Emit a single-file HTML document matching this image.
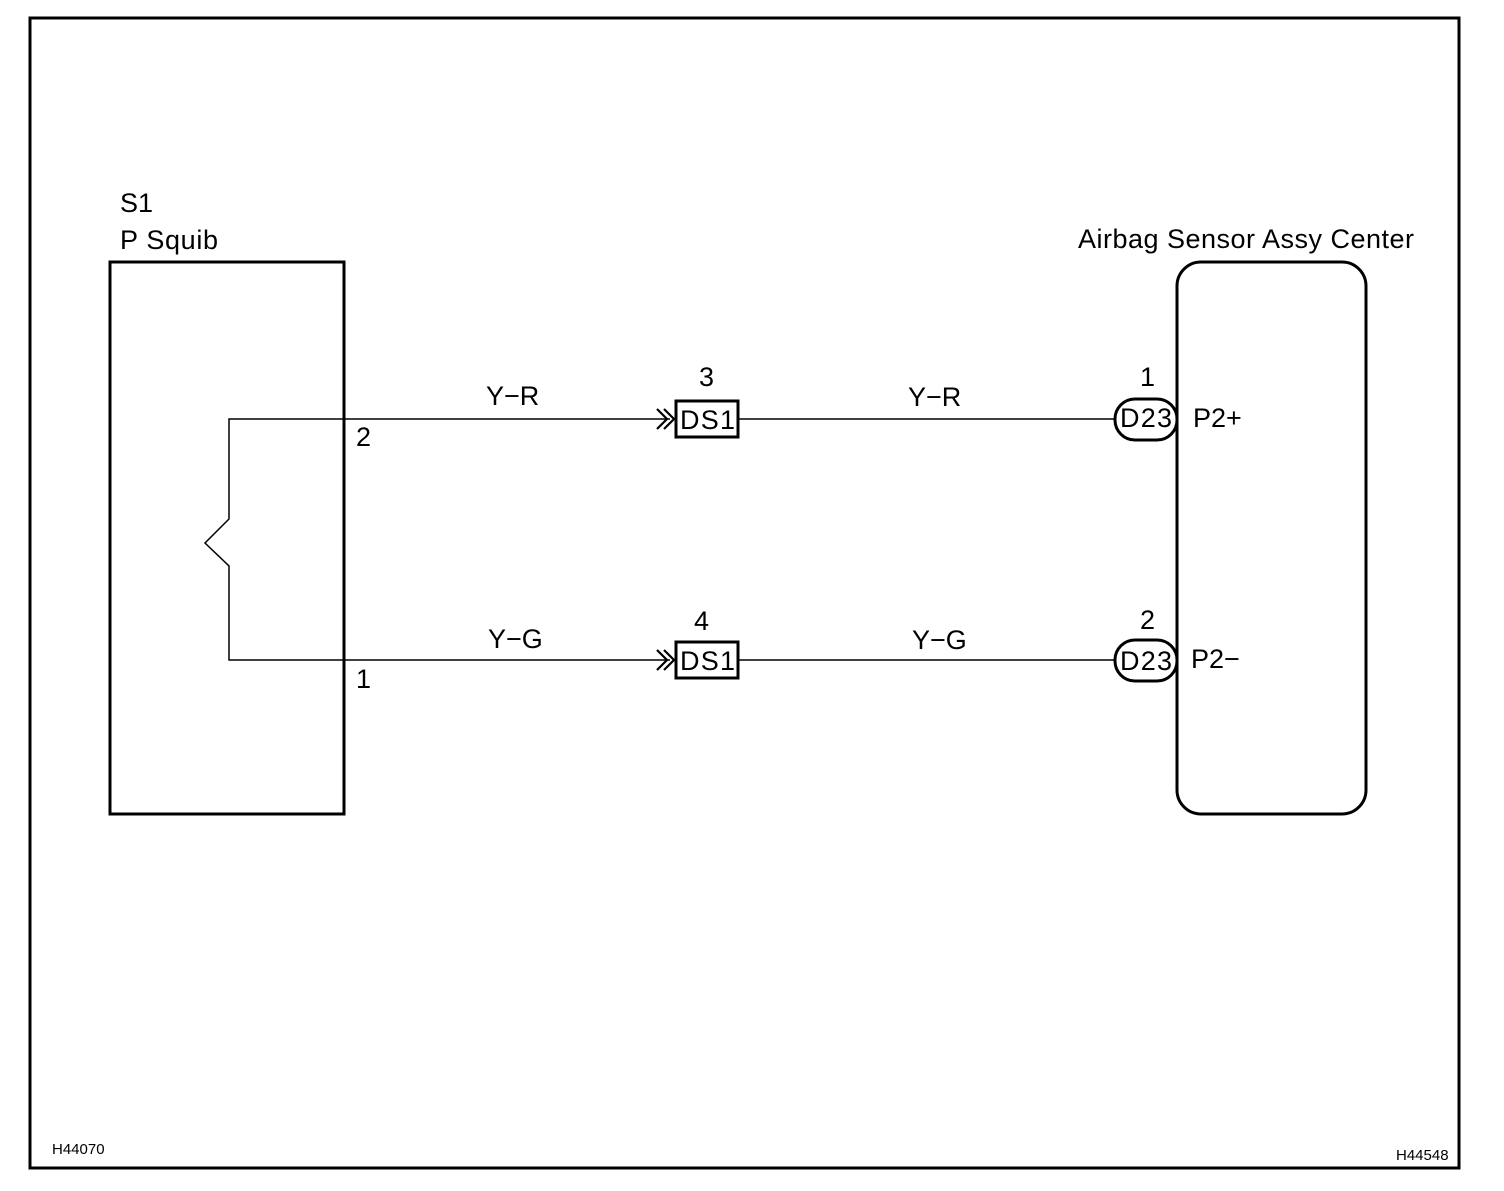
<!DOCTYPE html>
<html><head><style>
body{margin:0;background:#fff;}
svg text{font-family:"Liberation Sans",Arial,sans-serif;fill:#000;}
</style></head><body>
<svg width="1504" height="1186" viewBox="0 0 1504 1186" xmlns="http://www.w3.org/2000/svg">
<rect x="30" y="18" width="1429" height="1150" fill="none" stroke="#000" stroke-width="3"/>
<text x="120" y="212" font-size="27">S1</text>
<text x="120" y="249" font-size="27" textLength="98">P Squib</text>
<rect x="110" y="262" width="234" height="552" fill="none" stroke="#000" stroke-width="3"/>
<text x="1078" y="248" font-size="27" textLength="336">Airbag Sensor Assy Center</text>
<rect x="1177" y="262" width="189" height="552" rx="24" fill="none" stroke="#000" stroke-width="3"/>
<g fill="none" stroke="#000" stroke-width="1.5">
<polyline points="670,419 229,419 229,519 205,543 229,566 229,660 670,660"/>
<line x1="739" y1="419" x2="1115" y2="419"/>
<line x1="739" y1="660" x2="1115" y2="660"/>
</g>
<g fill="none" stroke="#000" stroke-width="2.2">
<polyline points="657,409 667,419 657,429"/>
<polyline points="664,409 674,419 664,429"/>
<polyline points="657,650 667,660 657,670"/>
<polyline points="664,650 674,660 664,670"/>
</g>
<g fill="#fff" stroke="#000" stroke-width="3">
<rect x="676" y="401" width="62" height="36"/>
<rect x="676" y="642" width="62" height="36"/>
<rect x="1115" y="399" width="62" height="41" rx="20"/>
<rect x="1115" y="640" width="62" height="41" rx="20"/>
</g>
<g font-size="27">
<text x="486" y="405">Y−R</text>
<text x="908" y="406">Y−R</text>
<text x="488" y="648">Y−G</text>
<text x="912" y="649">Y−G</text>
<text x="356" y="446">2</text>
<text x="356" y="688">1</text>
<text x="699" y="386">3</text>
<text x="694" y="630">4</text>
<text x="1140" y="386">1</text>
<text x="1140" y="629">2</text>
<text x="680" y="429" textLength="55">DS1</text>
<text x="680" y="670" textLength="55">DS1</text>
<text x="1120" y="427" textLength="52">D23</text>
<text x="1120" y="670" textLength="52">D23</text>
<text x="1193" y="427">P2+</text>
<text x="1191" y="668">P2−</text>
</g>
<text x="52" y="1154" font-size="15">H44070</text>
<text x="1396" y="1160" font-size="15">H44548</text>
</svg>
</body></html>
